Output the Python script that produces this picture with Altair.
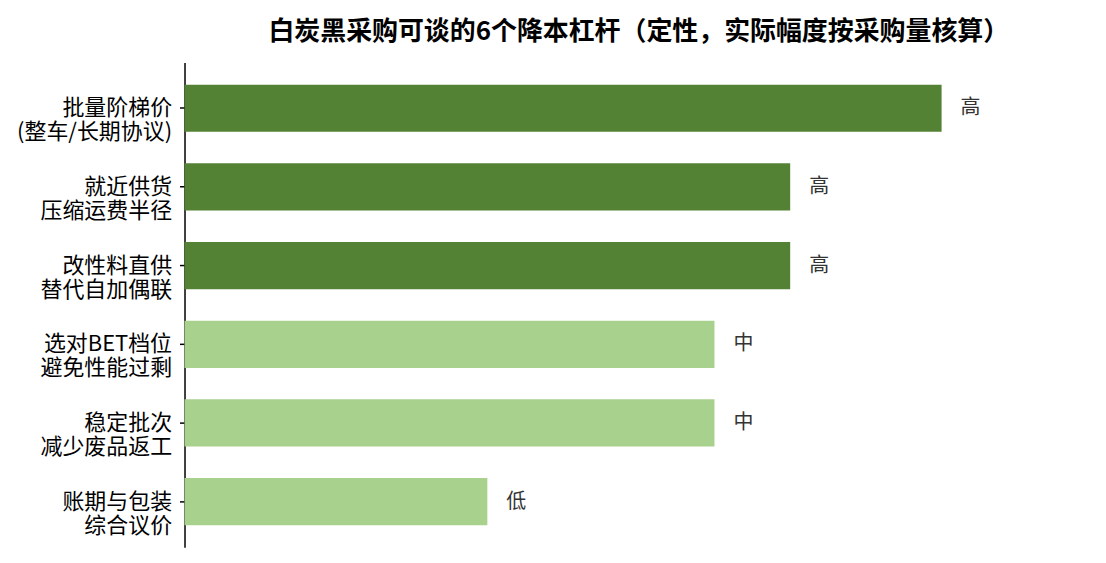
import altair as alt
import pandas as pd

categories = [
    "批量阶梯价|(整车/长期协议)",
    "就近供货|压缩运费半径",
    "改性料直供|替代自加偶联",
    "选对BET档位|避免性能过剩",
    "稳定批次|减少废品返工",
    "账期与包装|综合议价",
]
scores = [5, 4, 4, 3.5, 3.5, 2]
levels = ["高", "高", "高", "中", "中", "低"]

df = pd.DataFrame({"cat": categories, "score": scores, "level": levels})

FONT = "Noto Sans CJK SC"

base = alt.Chart(df).encode(
    y=alt.Y(
        "cat:N",
        sort=categories,
        title=None,
        scale=alt.Scale(paddingInner=0.4, paddingOuter=0.28),
        axis=alt.Axis(
            labelExpr="split(datum.label, '|')",
            labelFontSize=22,
            labelFont=FONT,
            labelColor="#000000",
            labelLineHeight=24,
            labelPadding=8,
            tickSize=5,
            tickColor="#000000",
            domainColor="#000000",
            domainWidth=1.5,
            tickWidth=1.5,
            grid=False,
        ),
    ),
    x=alt.X("score:Q", scale=alt.Scale(domain=[0, 6]), axis=None),
)

bars = base.mark_bar().encode(
    color=alt.Color(
        "level:N",
        scale=alt.Scale(domain=["高", "中", "低"], range=["#548235", "#A9D18E", "#A9D18E"]),
        legend=None,
    )
)

labels = base.mark_text(align="left", baseline="middle", dx=19, fontSize=20, font=FONT, color="#333333").encode(
    text="level:N"
)

chart = (
    alt.layer(bars, labels)
    .properties(
        width=911,
        height=486,
        title=alt.TitleParams(
            "白炭黑采购可谈的6个降本杠杆（定性，实际幅度按采购量核算）",
            font=FONT,
            fontSize=26,
            fontWeight="bold",
            color="#000000",
            anchor="middle",
            offset=18,
        ),
        autosize=alt.AutoSizeParams(type="none"),
        padding={"left": 177, "top": 54, "right": 5, "bottom": 10},
    )
    .configure_view(stroke=None)
)

chart.save("out.html", embed_options={"renderer": "svg", "actions": False})
